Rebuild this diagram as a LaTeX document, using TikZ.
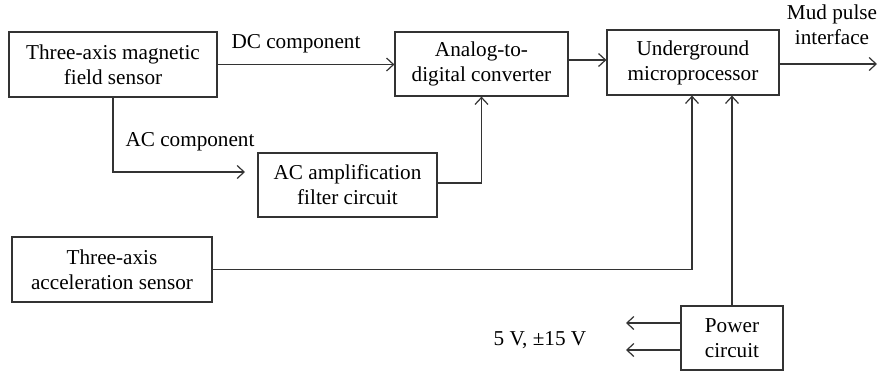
\documentclass[tikz,border=0pt]{standalone}
\usepackage{fontspec}
\setmainfont{Liberation Serif}
\usetikzlibrary{arrows.meta}
\begin{document}
\begin{tikzpicture}[x=0.5pt,y=-0.5pt,
  font=\fontsize{10.6}{12.5}\selectfont,
  box/.style={draw=black!80, line width=0.6pt, align=center, inner sep=0pt},
  conn/.style={draw=black!80, line width=0.6pt},
  arr/.style={conn, -{Straight Barb[length=3.5pt,width=6.5pt]}},
  lbl/.style={align=center, inner sep=0pt}]
\useasboundingbox (0,0) rectangle (879,372);
% boxes
\node[box, minimum width=104pt, minimum height=32.5pt] (mag) at (113,64.5) {Three-axis magnetic\\field sensor};
\node[box, minimum width=86.5pt, minimum height=32pt] (adc) at (481.5,64) {Analog-to-\\digital converter};
\node[box, minimum width=86pt, minimum height=32.5pt] (mcu) at (693,62.5) {Underground\\microprocessor};
\node[box, minimum width=89.5pt, minimum height=32pt] (amp) at (347.5,185) {AC amplification\\filter circuit};
\node[box, minimum width=100pt, minimum height=32.5pt] (acc) at (112,269.5) {Three-axis\\acceleration sensor};
\node[box, minimum width=51pt, minimum height=32pt] (pwr) at (732,338) {Power\\circuit};
% labels
\node[lbl] (dcl) at (296,44) {DC component};
\node[lbl] (acl) at (190,142) {AC component};
\node[lbl] (mudl) at (832,25) {Mud pulse\\interface};
\node[lbl] (vl) at (540,340) {5 V, ±15 V};
% coordinates
\coordinate (acend) at (245,172);
\coordinate (mudend) at (877,64);
\coordinate (p1) at (626,323);
\coordinate (p2) at (626,350);
% connectors
\draw[arr] (mag.east) -- (mag.east -| adc.west);
\draw[arr] (adc.east |- 0,60) -- (mcu.west |- 0,60);
\draw[arr] (mcu.east |- mudend) -- (mudend);
\draw[arr] (mag.south) |- (acend);
\draw[arr] (amp.east |- 0,183) -| (adc.south);
\draw[arr] (acc.east) -| (692,0 |- mcu.south);
\draw[arr] (pwr.north) -- (pwr.north |- mcu.south);
\draw[arr] (pwr.west |- p1) -- (p1);
\draw[arr] (pwr.west |- p2) -- (p2);
\end{tikzpicture}
\end{document}
